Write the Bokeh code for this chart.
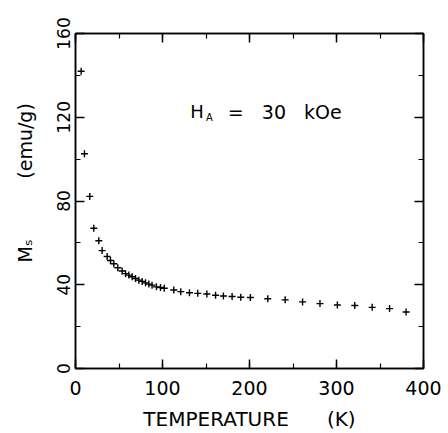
import math
from bokeh.plotting import figure
from bokeh.models import LinearAxis, SingleIntervalTicker, Label, Range1d, CustomJSTickFormatter
from bokeh.embed import file_html
from bokeh.resources import INLINE

# Data
temperature_K = [6.5, 10.3, 16.4, 21, 26.8, 30.6, 36.4, 40.2, 44, 48.6, 53.6, 57.5,
                 61.3, 65.1, 69, 72.8, 76.6, 80.5, 84.3, 88, 93, 97.7, 102, 113,
                 121, 131, 140.5, 151, 161, 170, 180, 190, 201, 221, 241, 261,
                 281, 301, 321, 341, 361, 380]
Ms_emu_g = [142, 102.6, 82.2, 67, 61, 56.3, 53.5, 51.6, 50, 48.1, 46.6, 45.3,
            44.6, 43.8, 43, 42.2, 41.6, 40.9, 40.3, 39.8, 39, 38.7, 38.3, 37.5,
            36.7, 36.2, 35.9, 35.6, 35, 34.6, 34.4, 34, 33.9, 33.3, 32.8, 31.8,
            31, 30.3, 30.1, 29.2, 28.6, 27]

NB = "\u00a0"
x_label = "TEMPERATURE" + NB * 6 + "(K)"
y_label = NB * 6 + "M\u209b" + NB * 10 + "(emu/g)"
note_main = "H"
note_sub = "A"
note_rest = "=" + NB * 3 + "30" + NB * 3 + "kOe"

FONT = "DejaVu Sans"

p = figure(width=448, height=433, x_range=Range1d(0, 400), y_range=Range1d(0, 160),
           output_backend="svg", toolbar_location=None,
           min_border_left=75, min_border_right=25, min_border_top=33, min_border_bottom=60,
           x_axis_location=None, y_axis_location=None)
p.grid.visible = False
p.outline_line_color = "black"
p.outline_line_width = 1.5
p.background_fill_color = "white"
p.border_fill_color = "white"


def style_axis(ax, show_labels):
    ax.axis_line_color = "black"
    ax.axis_line_width = 1.5
    ax.major_tick_in = 9
    ax.major_tick_out = 0
    ax.minor_tick_in = 5
    ax.minor_tick_out = 0
    ax.major_tick_line_width = 1.5
    ax.minor_tick_line_width = 1.2
    ax.major_tick_line_color = "black"
    ax.minor_tick_line_color = "black"
    ax.major_label_text_font = FONT
    ax.major_label_text_color = "black"
    if not show_labels:
        ax.formatter = CustomJSTickFormatter(code="return ''")
        ax.major_label_standoff = 0


xb = LinearAxis(ticker=SingleIntervalTicker(interval=100, num_minor_ticks=2))
style_axis(xb, True)
xb.major_label_text_font_size = "19px"
xb.major_label_standoff = 12
xb.axis_label = x_label
xb.axis_label_text_font = FONT
xb.axis_label_text_font_size = "20px"
xb.axis_label_text_font_style = "normal"
xb.axis_label_text_color = "black"
xb.axis_label_standoff = 9
p.add_layout(xb, "below")

xt = LinearAxis(ticker=SingleIntervalTicker(interval=100, num_minor_ticks=2))
style_axis(xt, False)
p.add_layout(xt, "above")

yl = LinearAxis(ticker=SingleIntervalTicker(interval=40, num_minor_ticks=2))
style_axis(yl, True)
yl.major_label_text_font_size = "17px"
yl.major_label_orientation = "vertical"
yl.major_label_standoff = 6
yl.axis_label = y_label
yl.axis_label_text_font = FONT
yl.axis_label_text_font_size = "19px"
yl.axis_label_text_font_style = "normal"
yl.axis_label_text_color = "black"
yl.axis_label_standoff = 18
p.add_layout(yl, "left")

yr = LinearAxis(ticker=SingleIntervalTicker(interval=40, num_minor_ticks=2))
style_axis(yr, False)
p.add_layout(yr, "right")

p.scatter(temperature_K, Ms_emu_g, marker="cross", size=7, line_width=1.4,
          line_color="black")

# Annotation H_A = 30 kOe
p.add_layout(Label(x=132, y=122.6, text=note_main, text_font=FONT,
                   text_font_size="18px", text_align="left", text_baseline="middle",
                   text_color="black"))
p.add_layout(Label(x=150, y=120, text=note_sub, text_font=FONT,
                   text_font_size="10px", text_align="left", text_baseline="middle",
                   text_color="black"))
p.add_layout(Label(x=175, y=122.6, text=note_rest, text_font=FONT,
                   text_font_size="19px", text_align="left", text_baseline="middle",
                   text_color="black"))

open("out.html", "w").write(file_html(p, INLINE))
